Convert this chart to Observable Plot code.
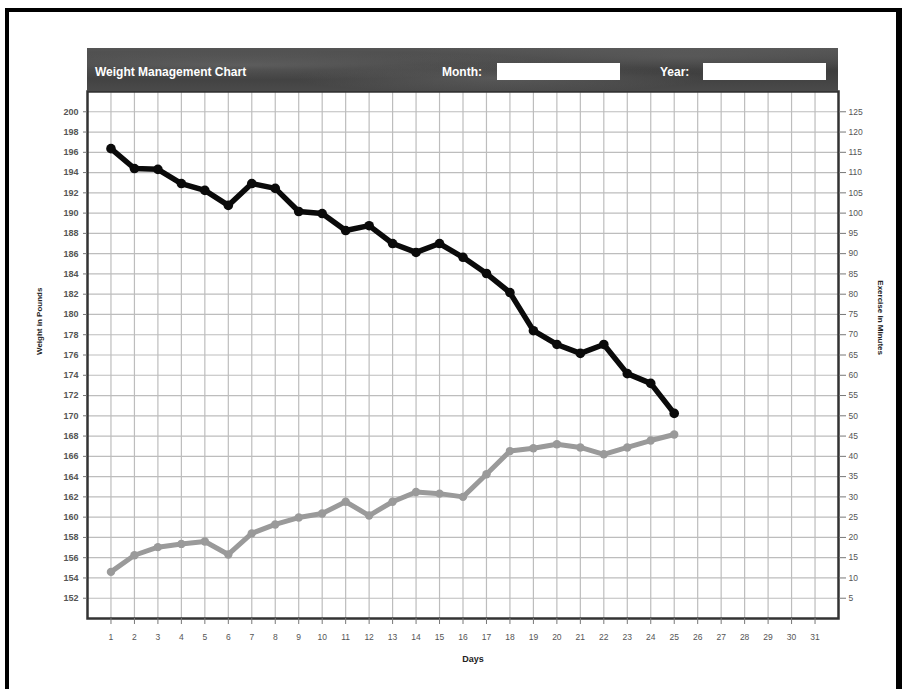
<!DOCTYPE html>
<html>
<head>
<meta charset="utf-8">
<script src="https://cdn.jsdelivr.net/npm/d3@7"></script>
<script src="https://cdn.jsdelivr.net/npm/@observablehq/plot@0.6"></script>
<style>
  html, body { margin: 0; padding: 0; background: #fff; overflow: hidden; }
  #wrap { position: relative; width: 903px; height: 689px; font-family: "Liberation Sans", Arial, sans-serif; }
  #chart { position: absolute; left: 0; top: 0; }
  #outer { position: absolute; left: 5px; top: 8px; width: 887px; height: 700px;
           border-top: 4px solid #000; border-left: 4px solid #000; border-right: 6px solid #000; pointer-events: none; }
  #banner { position: absolute; left: 87px; top: 48px; width: 751px; height: 43px;
            background:
              radial-gradient(ellipse at 20% 40%, rgba(120,120,120,0.5), rgba(0,0,0,0) 40%),
              radial-gradient(ellipse at 55% 70%, rgba(110,110,110,0.5), rgba(0,0,0,0) 35%),
              radial-gradient(ellipse at 80% 20%, rgba(100,100,100,0.5), rgba(0,0,0,0) 35%),
              linear-gradient(180deg, #555 0%, #3d3d3d 50%, #4a4a4a 100%);
            border-bottom: 1px solid #333; }
  .btxt { position: absolute; color: #fff; font-weight: bold; font-size: 12px; top: 17px; }
  .box { position: absolute; background: #fff; top: 15px; height: 17px; width: 123px; }
</style>
</head>
<body>
<div id="wrap">
  <div id="chart"></div>
  <div id="banner">
    <div class="btxt" style="left:8px;">Weight Management Chart</div>
    <div class="btxt" style="left:355px;">Month:</div>
    <div class="box" style="left:410px;"></div>
    <div class="btxt" style="left:573px;">Year:</div>
    <div class="box" style="left:616px;"></div>
  </div>
  <div id="outer"></div>
</div>
<script>
// ---- data ----
const days = [1,2,3,4,5,6,7,8,9,10,11,12,13,14,15,16,17,18,19,20,21,22,23,24,25];
const weight = [115.9,111.0,110.8,107.3,105.6,101.9,107.3,106.1,100.4,99.9,95.7,96.9,92.5,90.3,92.5,89.1,85.1,80.4,71.0,67.6,65.4,67.6,60.4,58.0,50.6];
const exercise = [11.5,15.6,17.6,18.4,19.0,15.8,21.0,23.2,24.9,25.9,28.8,25.4,28.8,31.2,30.8,30.0,35.6,41.3,42.0,43.0,42.2,40.5,42.2,43.9,45.4];
const dayTicks = [1,2,3,4,5,6,7,8,9,10,11,12,13,14,15,16,17,18,19,20,21,22,23,24,25,26,27,28,29,30,31];
const exerciseTicks = [125,120,115,110,105,100,95,90,85,80,75,70,65,60,55,50,45,40,35,30,25,20,15,10,5];
const gridTicks = [130,125,120,115,110,105,100,95,90,85,80,75,70,65,60,55,50,45,40,35,30,25,20,15,10,5];
const weightLabels = ["200","198","196","194","192","190","188","186","184","182","180","178","176","174","172","170","168","166","164","162","160","158","156","154","152"];

const rows = days.map((d, i) => ({day: d, weight: weight[i], exercise: exercise[i]}));
const weightMap = new Map(exerciseTicks.map((t, i) => [t, weightLabels[i]]));

const chart = Plot.plot({
  width: 903,
  height: 689,
  marginTop: 91,
  marginLeft: 87,
  marginRight: 65,
  marginBottom: 71,
  style: {background: "transparent", fontFamily: "Liberation Sans, Arial, sans-serif"},
  x: {domain: [0, 32], axis: null},
  y: {domain: [0, 130], axis: null},
  marks: [
    Plot.gridX(dayTicks, {stroke: "#bdbdbd", strokeOpacity: 1, strokeWidth: 1.2}),
    Plot.gridY(gridTicks, {stroke: "#bdbdbd", strokeOpacity: 1, strokeWidth: 1.2}),
    Plot.frame({stroke: "#333", strokeWidth: 2.5}),
    Plot.axisX(dayTicks, {anchor: "bottom", tickSize: 6, tickPadding: 9, fontSize: 8.5, fill: "#555", stroke: "#777", label: null}),
    Plot.axisY(exerciseTicks, {anchor: "left", tickSize: 4, tickPadding: 5, fontSize: 9, fontWeight: "bold", fill: "#555", stroke: "#777", label: null, tickFormat: d => weightMap.get(d)}),
    Plot.axisY(exerciseTicks, {anchor: "right", tickSize: 7, tickPadding: 3, fontSize: 8.5, fill: "#555", stroke: "#777", label: null}),
    Plot.line(rows, {x: "day", y: "exercise", stroke: "#9a9a9a", strokeWidth: 5}),
    Plot.dot(rows, {x: "day", y: "exercise", fill: "#9a9a9a", r: 4.2}),
    Plot.line(rows, {x: "day", y: "weight", stroke: "#0a0a0a", strokeWidth: 5.5}),
    Plot.dot(rows, {x: "day", y: "weight", fill: "#0a0a0a", r: 4.8}),
    Plot.text(["Days"], {frameAnchor: "bottom", dx: 10, dy: 43, fontSize: 9, fontWeight: "bold", fill: "#222"}),
    Plot.text(["Weight in Pounds"], {frameAnchor: "left", dx: -48, rotate: -90, fontSize: 8, fontWeight: "bold", fill: "#222"}),
    Plot.text(["Exercise in Minutes"], {frameAnchor: "right", dx: 42, rotate: 90, fontSize: 8, fontWeight: "bold", fill: "#222"})
  ]
});
document.getElementById("chart").appendChild(chart);
</script>
</body>
</html>
